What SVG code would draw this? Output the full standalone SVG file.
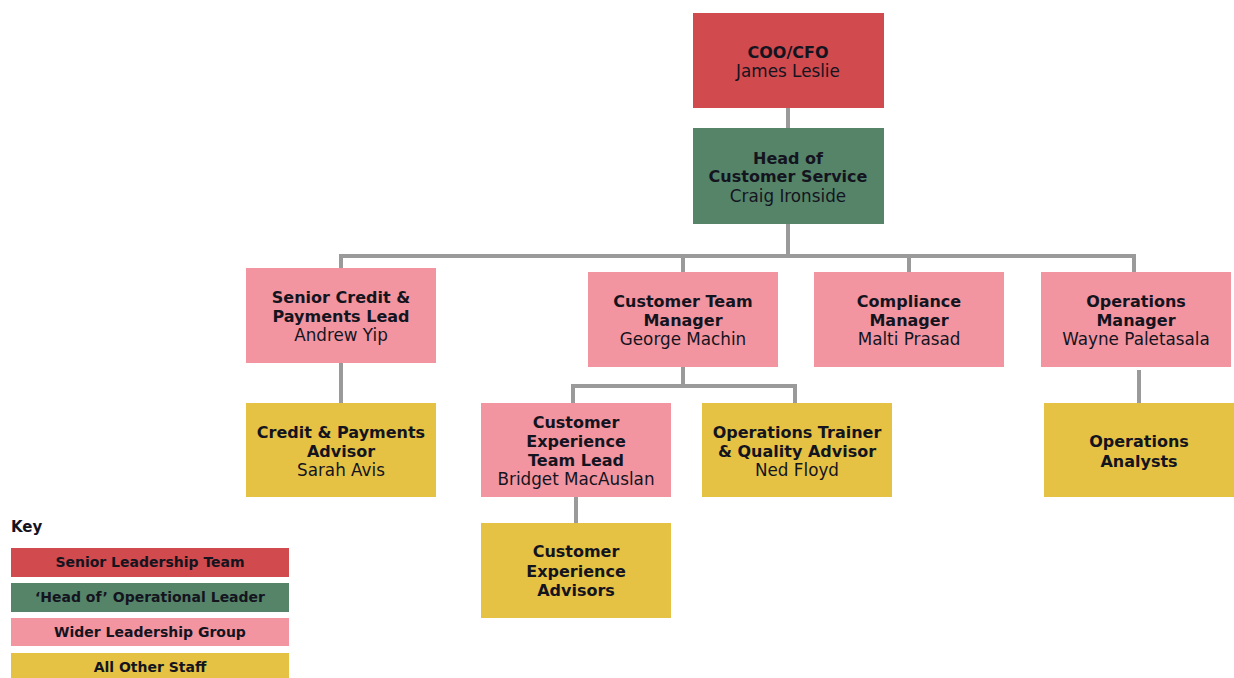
<svg xmlns="http://www.w3.org/2000/svg" width="1234" height="678" viewBox="0 0 1234 678">
  <style>
    .box { stroke: none; }
    .slt { fill: #D14A4E; }
    .head { fill: #558469; }
    .wlg { fill: #F295A0; }
    .staff { fill: #E5C243; }
    .t { font-family: "DejaVu Sans", "Liberation Sans", sans-serif; font-size: 16px; fill: #14141f; text-anchor: middle; }
    .b { font-weight: 700; }
    .n { font-weight: 400; font-size: 16.8px; }
    .key { font-family: "DejaVu Sans", "Liberation Sans", sans-serif; font-size: 14px; font-weight: 700; fill: #14141f; text-anchor: middle; }
    .conn { fill: none; stroke: #9a9a9a; stroke-width: 4; }
  </style>

  <!-- reporting lines -->
  <g id="connectors" class="conn">
    <line x1="788" y1="108" x2="788" y2="128"/>
    <path d="M788 224 V256"/>
    <path d="M341 268 V256 H1134 V272"/>
    <path d="M683 256 V272"/>
    <path d="M909 256 V272"/>
    <path d="M341 363 V403"/>
    <path d="M683 367 V386"/>
    <path d="M573 403 V386 H795 V403"/>
    <path d="M576 497 V523"/>
    <path d="M1139 370 V403"/>
  </g>

  <g id="coo">
    <rect class="box slt" x="693" y="13" width="191" height="95"/>
    <text class="t b" x="788" y="58">COO/CFO</text>
    <text class="t n" x="788" y="77">James Leslie</text>
  </g>

  <g id="head-customer-service">
    <rect class="box head" x="693" y="128" width="191" height="96"/>
    <text class="t b" x="788" y="164">Head of</text>
    <text class="t b" x="788" y="182">Customer Service</text>
    <text class="t n" x="788" y="202">Craig Ironside</text>
  </g>

  <g id="senior-credit">
    <rect class="box wlg" x="246" y="268" width="190" height="95"/>
    <text class="t b" x="341" y="303">Senior Credit &amp;</text>
    <text class="t b" x="341" y="322">Payments Lead</text>
    <text class="t n" x="341" y="341">Andrew Yip</text>
  </g>

  <g id="customer-team-manager">
    <rect class="box wlg" x="588" y="272" width="190" height="95"/>
    <text class="t b" x="683" y="307">Customer Team</text>
    <text class="t b" x="683" y="326">Manager</text>
    <text class="t n" x="683" y="345">George Machin</text>
  </g>

  <g id="compliance-manager">
    <rect class="box wlg" x="814" y="272" width="190" height="95"/>
    <text class="t b" x="909" y="307">Compliance</text>
    <text class="t b" x="909" y="326">Manager</text>
    <text class="t n" x="909" y="345">Malti Prasad</text>
  </g>

  <g id="operations-manager">
    <rect class="box wlg" x="1041" y="272" width="190" height="95"/>
    <text class="t b" x="1136" y="307">Operations</text>
    <text class="t b" x="1136" y="326">Manager</text>
    <text class="t n" x="1136" y="345">Wayne Paletasala</text>
  </g>

  <g id="credit-payments-advisor">
    <rect class="box staff" x="246" y="403" width="190" height="94"/>
    <text class="t b" x="341" y="438">Credit &amp; Payments</text>
    <text class="t b" x="341" y="457">Advisor</text>
    <text class="t n" x="341" y="476">Sarah Avis</text>
  </g>

  <g id="cx-team-lead">
    <rect class="box wlg" x="481" y="403" width="190" height="94"/>
    <text class="t b" x="576" y="428">Customer</text>
    <text class="t b" x="576" y="447">Experience</text>
    <text class="t b" x="576" y="466">Team Lead</text>
    <text class="t n" x="576" y="485">Bridget MacAuslan</text>
  </g>

  <g id="ops-trainer">
    <rect class="box staff" x="702" y="403" width="190" height="94"/>
    <text class="t b" x="797" y="438">Operations Trainer</text>
    <text class="t b" x="797" y="457">&amp; Quality Advisor</text>
    <text class="t n" x="797" y="476">Ned Floyd</text>
  </g>

  <g id="ops-analysts">
    <rect class="box staff" x="1044" y="403" width="190" height="94"/>
    <text class="t b" x="1139" y="447">Operations</text>
    <text class="t b" x="1139" y="467">Analysts</text>
  </g>

  <g id="cx-advisors">
    <rect class="box staff" x="481" y="523" width="190" height="95"/>
    <text class="t b" x="576" y="557">Customer</text>
    <text class="t b" x="576" y="577">Experience</text>
    <text class="t b" x="576" y="596">Advisors</text>
  </g>

  <!-- colour key -->
  <g id="legend">
    <text class="key" x="11" y="532" style="text-anchor:start; font-size:15px">Key</text>
    <rect class="slt" x="11" y="548" width="278" height="29"/>
    <text class="key" x="150" y="567">Senior Leadership Team</text>
    <rect class="head" x="11" y="583" width="278" height="29"/>
    <text class="key" x="150" y="602">‘Head of’ Operational Leader</text>
    <rect class="wlg" x="11" y="618" width="278" height="28"/>
    <text class="key" x="150" y="637">Wider Leadership Group</text>
    <rect class="staff" x="11" y="653" width="278" height="27"/>
    <text class="key" x="150" y="672">All Other Staff</text>
  </g>
</svg>
